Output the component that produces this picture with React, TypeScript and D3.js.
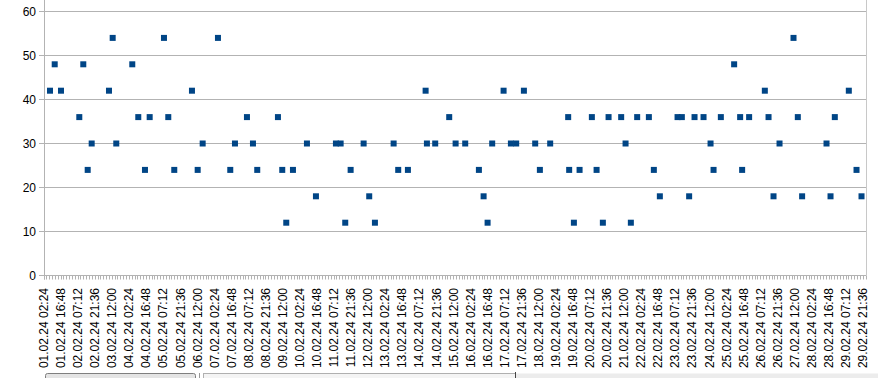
import React from "react";
import * as d3 from "d3";

const times: string[] = [
  "2024-02-01T07:28","2024-02-01T11:26","2024-02-01T16:44","2024-02-02T08:11","2024-02-02T11:33",
  "2024-02-02T15:16","2024-02-02T18:38","2024-02-03T09:14","2024-02-03T12:21","2024-02-03T15:23",
  "2024-02-04T04:53","2024-02-04T09:57","2024-02-04T15:36","2024-02-04T19:34","2024-02-05T07:38",
  "2024-02-05T11:16","2024-02-05T16:19","2024-02-06T07:15","2024-02-06T12:04","2024-02-06T16:17",
  "2024-02-07T05:11","2024-02-07T15:34","2024-02-07T19:32","2024-02-08T05:39","2024-02-08T10:43",
  "2024-02-08T14:20","2024-02-09T07:48","2024-02-09T11:26","2024-02-09T14:49","2024-02-09T20:28",
  "2024-02-10T08:16","2024-02-10T15:52","2024-02-11T08:44","2024-02-11T12:42","2024-02-11T16:35",
  "2024-02-11T21:08","2024-02-12T08:06","2024-02-12T12:49","2024-02-12T17:38","2024-02-13T09:25",
  "2024-02-13T13:17","2024-02-13T21:28","2024-02-14T12:24","2024-02-14T13:30","2024-02-14T20:30",
  "2024-02-15T08:19","2024-02-15T13:43","2024-02-15T21:49","2024-02-16T09:22","2024-02-16T13:20",
  "2024-02-16T16:42","2024-02-16T20:35","2024-02-17T06:12","2024-02-17T12:22","2024-02-17T16:50",
  "2024-02-17T23:20","2024-02-18T08:52","2024-02-18T12:49","2024-02-18T21:31","2024-02-19T12:42",
  "2024-02-19T13:32","2024-02-19T17:31","2024-02-19T22:19","2024-02-20T08:41","2024-02-20T12:40",
  "2024-02-20T17:58","2024-02-20T22:47","2024-02-21T09:25","2024-02-21T13:07","2024-02-21T17:35",
  "2024-02-21T22:55","2024-02-22T08:47","2024-02-22T12:59","2024-02-22T18:03","2024-02-23T08:59",
  "2024-02-23T12:37","2024-02-23T18:46","2024-02-23T23:19","2024-02-24T06:55","2024-02-24T12:50",
  "2024-02-24T15:22","2024-02-24T21:31","2024-02-25T08:44","2024-02-25T13:48","2024-02-25T15:29",
  "2024-02-25T21:23","2024-02-26T10:38","2024-02-26T13:46","2024-02-26T17:58","2024-02-26T23:02",
  "2024-02-27T10:50","2024-02-27T14:28","2024-02-27T18:06","2024-02-28T14:41","2024-02-28T18:04",
  "2024-02-28T21:41","2024-02-29T09:30","2024-02-29T16:00","2024-02-29T20:13",
];

const values: number[] = [
  42, 48, 42, 36, 48, 24, 30, 42, 54, 30,
  48, 36, 24, 36, 54, 36, 24, 42, 24, 30,
  54, 24, 30, 36, 30, 24, 36, 24, 12, 24,
  30, 18, 30, 30, 12, 24, 30, 18, 12, 30,
  24, 24, 42, 30, 30, 36, 30, 30, 24, 18,
  12, 30, 42, 30, 30, 42, 30, 24, 30, 36,
  24, 12, 24, 36, 24, 12, 36, 36, 30, 12,
  36, 36, 24, 18, 36, 36, 18, 36, 36, 30,
  24, 36, 48, 36, 24, 36, 42, 36, 18, 30,
  54, 36, 18, 30, 18, 36, 42, 24, 18,
];

const yTicks: number[] = [0, 10, 20, 30, 40, 50, 60];
const axisStart = "2024-02-01T02:24";
const axisEnd = "2024-03-01T00:00";
const majorStepHours = 14.4;
const minorStepHours = 2.4;

const W = 878;
const H = 378;
const left = 44;
const right = 866;
const bottom = 275.5;
const top = 11.5;
const gridColor = "#b3b3b3";
const pointColor = "#004586";
const font = "'Liberation Sans', Arial, sans-serif";

const parse = (s: string) => new Date(s);
const pad = (n: number) => String(n).padStart(2, "0");
const fmt = (d: Date) =>
  `${pad(d.getDate())}.${pad(d.getMonth() + 1)}.${String(d.getFullYear()).slice(2)} ${pad(d.getHours())}:${pad(d.getMinutes())}`;

export default function App() {
  const t0 = parse(axisStart);
  const t1 = parse(axisEnd);
  const x = d3.scaleTime().domain([t0, t1]).range([left, right]);
  const y = d3.scaleLinear().domain([0, 60]).range([bottom, top]);

  const hourMs = 3600 * 1000;
  const majors: Date[] = [];
  for (let t = t0.getTime(); t <= t1.getTime() + 1; t += majorStepHours * hourMs) majors.push(new Date(t));
  const minors: Date[] = [];
  for (let t = t0.getTime(); t <= t1.getTime() + 1; t += minorStepHours * hourMs) minors.push(new Date(t));

  const pts = times.map((s, i) => ({ t: parse(s), v: values[i] }));
  const crisp = (v: number) => Math.round(v - 0.5) + 0.5;

  return (
    <svg width={W} height={H} style={{ position: "absolute", left: 0, top: 0, background: "#fff" }}>
      {/* gridlines */}
      {yTicks.map((v) => (
        <g key={"g" + v}>
          <line x1={left - 5} x2={right} y1={crisp(y(v))} y2={crisp(y(v))} stroke={gridColor} strokeWidth={1} />
          <text x={36} y={y(v)} textAnchor="end" dominantBaseline="central" fontFamily={font} fontSize={12} fill="#000">
            {v}
          </text>
        </g>
      ))}
      {/* y axis line */}
      <line x1={left + 0.5} x2={left + 0.5} y1={0} y2={bottom + 4} stroke={gridColor} strokeWidth={1} />
      {/* right border */}
      <line x1={right + 0.5} x2={right + 0.5} y1={0} y2={bottom} stroke="#c8c8c8" strokeWidth={1} />
      {/* x minor ticks */}
      {minors.map((d, i) => (
        <line key={"m" + i} x1={crisp(x(d))} x2={crisp(x(d))} y1={bottom} y2={bottom + 4} stroke={gridColor} strokeWidth={1} />
      ))}
      {/* x labels */}
      {majors.map((d, i) => (
        <text
          key={"l" + i}
          transform={`translate(${x(d)},${288}) rotate(-90)`}
          textAnchor="end"
          dominantBaseline="central"
          fontFamily={font}
          fontSize={12}
          fill="#000"
        >
          {fmt(d)}
        </text>
      ))}
      {/* points */}
      {pts.map((p, i) => (
        <rect key={"p" + i} x={x(p.t) - 3} y={y(p.v) - 3} width={6} height={6} fill={pointColor} />
      ))}
      {/* bottom bar decoration */}
      <rect x={516} y={373.5} width={362} height={10} fill="#ececec" stroke="none" />
      <rect x={45.5} y={373.5} width={150} height={10} rx={2} fill="#e4e4e4" stroke="#7f7f7f" />
      <line x1={199.5} x2={199.5} y1={373} y2={378} stroke="#999" />
      <rect x={203.5} y={373.5} width={312} height={10} fill="#f4f4f4" stroke="#b0b0b0" />
      <line x1={515.5} x2={515.5} y1={372} y2={378} stroke="#444" />
    </svg>
  );
}
